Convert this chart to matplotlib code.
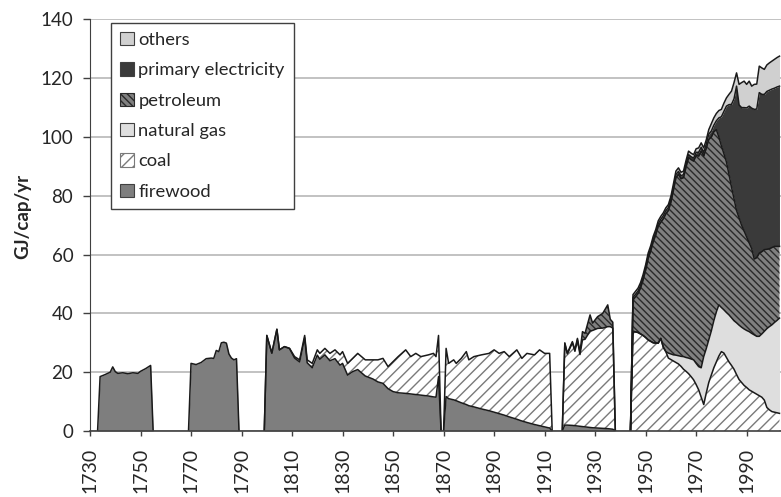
import matplotlib
matplotlib.use("Agg")
import matplotlib.pyplot as plt
import numpy as np
from matplotlib.patches import Patch

plt.rcParams["font.family"] = ["Lato", "DejaVu Sans"]
plt.rcParams["hatch.linewidth"] = 1.0

# ---- data (GJ per capita per year) ----
years_a = [1734, 1736, 1738, 1739, 1740, 1741, 1743, 1745, 1747, 1749, 1750, 1752, 1754]
firewood_a = [18.5, 19.2, 20.0, 21.8, 20.2, 19.6, 19.8, 19.5, 19.8, 19.6, 20.3, 21.2, 22.3]

years_b = [1770, 1772, 1774, 1776, 1778, 1779, 1780, 1781, 1782, 1783, 1784, 1785, 1786, 1787, 1788]
firewood_b = [23.0, 22.6, 23.3, 24.6, 24.8, 24.7, 27.4, 27.0, 30.0, 30.2, 29.9, 26.2, 24.8, 24.2, 24.6]

years_c = [1800, 1802, 1804, 1805, 1807, 1809, 1811, 1813, 1815, 1816, 1818, 1820,
           1821, 1823, 1825, 1827, 1829, 1830, 1832, 1834, 1836, 1839, 1842, 1844,
           1846, 1848, 1850, 1852, 1855, 1857, 1859, 1861, 1864, 1866, 1867, 1868]
firewood_c = [32.5, 26.5, 34.6, 27.6, 28.7, 28.1, 24.8, 23.5, 31.7, 23.2, 21.5, 25.8,
              24.4, 25.9, 23.9, 24.6, 22.4, 23.0, 19.0, 20.2, 20.9, 18.7, 17.7, 16.7,
              16.2, 14.4, 13.4, 13.0, 12.8, 12.6, 12.4, 12.2, 11.9, 11.6, 11.5, 18.5]
coal_c = [0.0, 0.0, 0.0, 0.0, 0.0, 0.0, 0.5, 0.7, 0.8, 1.0, 1.5, 1.8,
          2.0, 2.2, 2.5, 3.0, 3.5, 4.0, 4.0, 4.5, 5.5, 5.5, 6.5, 7.5,
          8.5, 7.5, 10.2, 12.3, 14.8, 12.7, 14.0, 13.1, 14.0, 14.8, 13.8, 14.0]

years_d = [1871, 1872, 1874, 1875, 1877, 1879, 1880, 1882, 1885, 1888, 1890,
           1892, 1894, 1896, 1899, 1901, 1903, 1906, 1908, 1910, 1912]
firewood_d = [11.7, 11.0, 10.6, 10.3, 9.6, 9.0, 8.6, 8.2, 7.5, 6.9, 6.4,
              5.9, 5.4, 4.8, 4.0, 3.4, 2.9, 2.2, 1.8, 1.4, 1.0]
coal_d = [16.4, 12.0, 13.6, 12.7, 15.1, 18.0, 15.6, 17.1, 18.4, 19.5, 21.2,
          20.5, 21.6, 20.5, 23.6, 21.3, 23.5, 23.7, 25.8, 25.0, 25.4]

years_e = [1918, 1919, 1921, 1922, 1923, 1924, 1925, 1926, 1928, 1929, 1931, 1933, 1935, 1936, 1937]
firewood_e = [2.0, 2.0, 1.9, 1.8, 1.7, 1.6, 1.5, 1.4, 1.2, 1.1, 1.0, 0.9, 0.8, 0.7, 0.6]
coal_e = [27.7, 24.2, 28.1, 25.3, 29.3, 24.4, 29.5, 29.8, 32.8, 33.1, 33.9, 34.1, 34.7, 34.8, 34.4]
petroleum_e = [0.3, 0.3, 0.4, 0.5, 0.5, 0.8, 2.8, 2.0, 5.5, 2.5, 4.0, 5.0, 7.4, 2.5, 2.0]

years_f = list(range(1945, 2004))
coal_f = [33.9, 33.7, 33.5, 33.0, 32.5, 31.8, 31.0, 30.5, 30.0, 29.9,
          29.9, 31.5, 28.5, 27.0, 24.8, 24.3, 23.8, 23.3, 22.8, 22.0,
          21.0, 20.3, 19.5, 18.5, 17.4, 15.8, 14.0, 11.5, 9.0, 12.9,
          16.5, 19.0, 21.5, 23.5, 25.5, 27.0, 26.5, 25.0, 23.5, 22.3,
          21.0, 19.2, 17.5, 16.5, 15.5, 14.8, 14.0, 13.5, 13.0, 12.5,
          12.0, 11.5, 10.5, 8.0, 7.2, 6.6, 6.4, 6.2, 6.0]
gas_f = [0.0, 0.0, 0.0, 0.0, 0.0, 0.0, 0.0, 0.0, 0.0, 0.0,
         0.0, 0.0, 0.0, 0.0, 1.7, 1.9, 2.1, 2.5, 2.8, 3.4,
         4.3, 4.7, 5.3, 6.0, 6.8, 7.2, 7.9, 10.0, 16.3, 15.1,
         14.5, 15.0, 16.0, 17.0, 17.4, 15.0, 14.7, 15.3, 16.0, 16.2,
         16.5, 17.6, 18.5, 18.8, 19.2, 19.4, 19.8, 19.7, 19.7, 19.7,
         20.2, 21.5, 23.4, 26.8, 28.3, 29.5, 30.5, 31.4, 32.4]
petroleum_f = [10.7, 12.0, 13.3, 15.7, 18.9, 22.9, 27.7, 30.7, 34.4, 36.8,
               39.8, 39.5, 43.7, 46.9, 48.5, 51.6, 55.9, 60.4, 61.7, 60.4,
               60.9, 64.8, 68.2, 67.8, 67.6, 70.8, 71.6, 73.7, 68.2, 68.2,
               68.2, 66.0, 64.3, 62.0, 57.1, 55.0, 53.1, 51.2, 47.8, 44.5,
               41.5, 38.2, 36.5, 34.7, 33.3, 31.8, 30.2, 28.8, 25.8, 26.8,
               28.3, 28.0, 27.8, 27.0, 26.5, 26.3, 25.9, 25.2, 24.4]
electricity_f = [0.8, 0.8, 0.8, 0.8, 0.8, 0.8, 0.8, 0.8, 0.8, 0.8,
                 0.8, 1.0, 1.0, 1.0, 1.0, 1.0, 1.0, 1.0, 1.0, 1.0,
                 1.0, 1.0, 1.0, 1.0, 1.0, 1.0, 1.3, 1.3, 1.3, 1.3,
                 1.8, 2.0, 2.2, 3.0, 6.5, 9.9, 14.4, 19.0, 23.7, 28.1,
                 34.0, 42.3, 38.4, 40.0, 42.0, 43.9, 46.5, 47.8, 50.9, 50.5,
                 54.6, 53.5, 52.8, 53.7, 53.9, 53.9, 53.8, 54.2, 54.5]
others_f = [1.0, 1.0, 1.0, 1.0, 1.0, 1.0, 1.0, 1.0, 1.0, 1.0,
            1.0, 1.0, 1.0, 1.0, 1.0, 1.0, 1.2, 1.2, 1.2, 1.2,
            1.2, 1.2, 1.2, 1.2, 1.2, 1.2, 1.5, 1.5, 1.5, 1.5,
            1.5, 2.5, 2.5, 2.5, 2.5, 2.5, 2.8, 2.8, 3.5, 4.5,
            5.5, 4.5, 7.0, 8.5, 9.0, 8.0, 8.5, 7.5, 8.5, 8.5,
            9.0, 9.0, 8.5, 9.0, 9.3, 9.5, 9.8, 10.0, 10.2]

tick_years = list(range(1730, 2000, 20))
y_ticks = [0, 20, 40, 60, 80, 100, 120, 140]

# (years, layers, series continues past the right edge of the crop)
segments = [
    (years_a, {"firewood": firewood_a}, False),
    (years_b, {"firewood": firewood_b}, False),
    (years_c, {"firewood": firewood_c, "coal": coal_c}, False),
    (years_d, {"firewood": firewood_d, "coal": coal_d}, False),
    (years_e, {"firewood": firewood_e, "coal": coal_e, "petroleum": petroleum_e}, False),
    (years_f, {"coal": coal_f, "natural gas": gas_f, "petroleum": petroleum_f,
               "primary electricity": electricity_f, "others": others_f}, True),
]

# stacking order bottom -> top, with fill style
styles = {
    "firewood": dict(face="#7e7e7e", hatch=None, hc="#7e7e7e"),
    "coal": dict(face="#ffffff", hatch="///", hc="#7a7a7a"),
    "natural gas": dict(face="#dedede", hatch=None, hc="#dedede"),
    "petroleum": dict(face="#808080", hatch="\\\\\\\\\\", hc="#2a2a2a"),
    "primary electricity": dict(face="#3a3a3a", hatch=None, hc="#3a3a3a"),
    "others": dict(face="#d0d0d0", hatch=None, hc="#d0d0d0"),
}
outline = "#1a1a1a"

fig = plt.figure(figsize=(7.81, 4.97), dpi=100)
ax = fig.add_axes([90 / 781, 66 / 497, 691 / 781, 411.6 / 497])

for years, layers, open_right in segments:
    x = np.concatenate([[years[0] - 1], years] + ([] if open_right else [[years[-1] + 1]]))
    base = np.zeros(len(x))
    for name in styles:
        if name not in layers:
            continue
        vals = np.concatenate([[0.0], layers[name]] + ([] if open_right else [[0.0]]))
        top = base + vals
        st = styles[name]
        ax.fill_between(x, base, top, facecolor=st["face"], edgecolor=st["hc"],
                        hatch=st["hatch"], linewidth=0, zorder=2)
        ax.plot(x, top, color=outline, lw=1.1, zorder=3)
        base = top

ax.set_xticks(tick_years)
ax.set_xticklabels([str(y) for y in tick_years], rotation=90)
ax.set_yticks(y_ticks)
ax.set_xlim(1730, 2003.6)
ax.set_ylim(0, 140)

ax.grid(axis="y", color="#bdbdbd", lw=1.3)
ax.grid(axis="x", visible=False)
ax.set_axisbelow(True)

for side in ("top", "right"):
    ax.spines[side].set_visible(False)
ax.spines["left"].set_color("#404040")
ax.spines["bottom"].set_color("#404040")
ax.spines["bottom"].set_linewidth(1.2)
ax.spines["bottom"].set_zorder(4)

ax.tick_params(axis="y", length=5, width=1, color="#404040", pad=7,
               labelsize=13.5, labelcolor="#262626")
ax.tick_params(axis="x", length=3.6, width=1, color="#404040", pad=8.5,
               labelsize=14, labelcolor="#262626")

fig.text(23 / 781, 1 - 216 / 497, "GJ/cap/yr", rotation=90, ha="center",
         va="center", fontsize=13.5, fontweight="bold", color="#262626")

legend_order = ["others", "primary electricity", "petroleum", "natural gas", "coal", "firewood"]
handles = []
for name in legend_order:
    st = styles[name]
    ec = st["hc"] if st["hatch"] else "#404040"
    handles.append(Patch(facecolor=st["face"], edgecolor=ec, hatch=st["hatch"],
                         linewidth=0.8, label=name))

leg = ax.legend(handles=handles, loc="upper left", bbox_to_anchor=(0.0304, 0.992),
                borderaxespad=0, fontsize=13.2, frameon=True, fancybox=False,
                framealpha=1, edgecolor="#404040", borderpad=0.5,
                labelspacing=0.78, handlelength=0.74, handleheight=0.74,
                handletextpad=0.25)
leg.get_frame().set_linewidth(1.0)
for t in leg.get_texts():
    t.set_color("#262626")

fig.savefig("out.png", dpi=100)
